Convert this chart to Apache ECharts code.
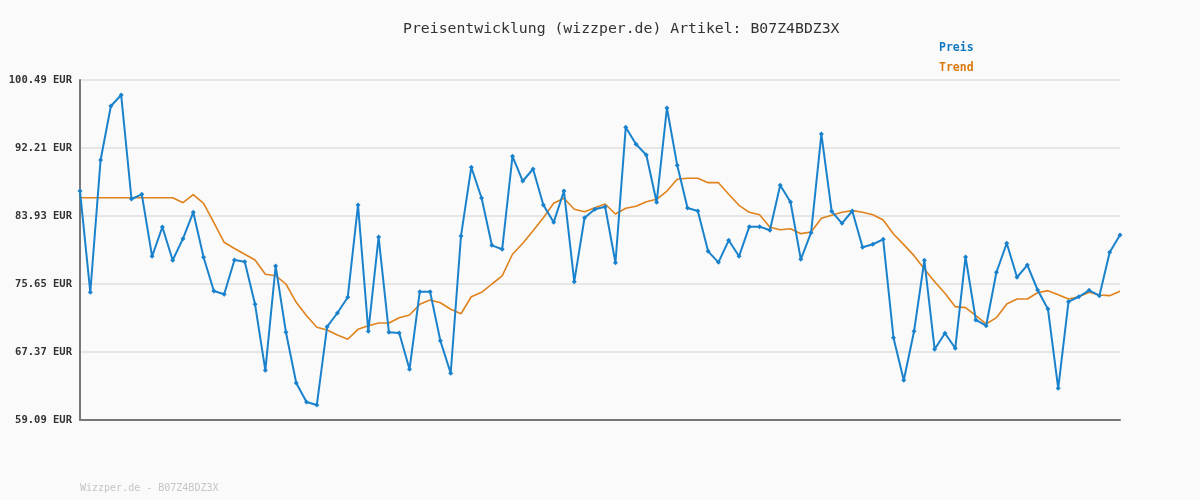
<!DOCTYPE html>
<html>
<head>
<meta charset="utf-8">
<script src="https://cdn.jsdelivr.net/npm/echarts@6/dist/echarts.min.js"></script>
<style>
html,body{margin:0;padding:0;background:#fafafa;}
#chart{width:1200px;height:500px;}
</style>
</head>
<body>
<div id="chart"></div>
<script>
// ---- data ----
const titleText = 'Preisentwicklung (wizzper.de) Artikel: B07Z4BDZ3X';
const footerText = 'Wizzper.de - B07Z4BDZ3X';
const seriesNames = ['Preis', 'Trend'];
const yTicks = [59.09, 67.37, 75.65, 83.93, 92.21, 100.49];
const categories = Array.from({length: 102}, (_, i) => String(i + 1));
const preis = [
  86.97, 74.64, 90.75, 97.32, 98.66, 86.00, 86.57, 79.02, 82.59, 78.54,
  81.17, 84.38, 78.90, 74.80, 74.40, 78.57, 78.37, 73.18, 65.14, 77.84,
  69.77, 63.60, 61.28, 60.92, 70.45, 72.12, 74.03, 85.27, 69.89, 81.37,
  69.77, 69.68, 65.26, 74.71, 74.71, 68.73, 64.78, 81.50, 89.86, 86.12,
  80.36, 79.88, 91.20, 88.19, 89.65, 85.27, 83.16, 86.97, 75.93, 83.72,
  84.75, 85.06, 78.24, 94.73, 92.66, 91.36, 85.60, 97.08, 90.10, 84.90,
  84.54, 79.63, 78.29, 80.97, 79.02, 82.63, 82.63, 82.19, 87.67, 85.64,
  78.66, 81.90, 93.91, 84.50, 83.04, 84.54, 80.12, 80.49, 81.09, 69.11,
  63.93, 69.89, 78.54, 67.70, 69.65, 67.82, 78.94, 71.27, 70.57, 77.08,
  80.61, 76.47, 77.96, 74.92, 72.61, 62.95, 73.50, 74.10, 74.88, 74.23,
  79.51, 81.62
];
const trend = [
  86.16, 86.16, 86.16, 86.16, 86.16, 86.16, 86.16, 86.16, 86.16, 86.16,
  85.55, 86.52, 85.48, 83.11, 80.73, 79.98, 79.27, 78.57, 76.83, 76.66,
  75.65, 73.42, 71.79, 70.38, 70.05, 69.44, 68.92, 70.13, 70.57, 70.90,
  70.90, 71.55, 71.88, 73.18, 73.70, 73.37, 72.57, 72.03, 74.10, 74.64,
  75.65, 76.63, 79.27, 80.61, 82.14, 83.72, 85.48, 86.09, 84.75, 84.45,
  84.94, 85.39, 84.17, 84.87, 85.11, 85.67, 85.96, 86.97, 88.40, 88.52,
  88.52, 87.99, 87.99, 86.57, 85.23, 84.38, 84.09, 82.56, 82.26, 82.38,
  81.78, 81.98, 83.65, 84.02, 84.38, 84.58, 84.38, 84.09, 83.44, 81.74,
  80.44, 79.10, 77.48, 75.93, 74.52, 72.89, 72.77, 71.79, 70.78, 71.55,
  73.22, 73.82, 73.82, 74.59, 74.84, 74.35, 73.82, 74.10, 74.64, 74.31,
  74.23, 74.76
];
// ---- chart ----
const MONO = '"DejaVu Sans Mono", "Liberation Mono", monospace';
const BLUE = '#1a82cc';
const ORANGE = '#e0821c';
const chart = echarts.init(document.getElementById('chart'), null, {renderer: 'canvas'});
chart.setOption({
  backgroundColor: '#fafafa',
  animation: false,
  title: [
    {text: titleText, left: 398, top: 17,
     textStyle: {fontFamily: MONO, fontSize: 14.8, fontWeight: 'normal', color: '#333'}},
    {text: footerText, left: 75, top: 478,
     textStyle: {fontFamily: MONO, fontSize: 10, fontWeight: 'normal', color: '#c4c4c4'}}
  ],
  legend: {
    orient: 'vertical', left: 929, top: 36, icon: 'none',
    itemWidth: 0, itemHeight: 14, itemGap: 6,
    textStyle: {fontFamily: MONO, fontSize: 11.5, fontWeight: 'bold', lineHeight: 14},
    data: [
      {name: seriesNames[0], textStyle: {color: '#1279c0'}},
      {name: seriesNames[1], textStyle: {color: '#d97a10'}}
    ],
    selectedMode: false
  },
  grid: {left: 80, right: 80, top: 80, bottom: 80, containLabel: false},
  xAxis: {
    type: 'category', data: categories, boundaryGap: false,
    axisLine: {show: true, lineStyle: {color: '#777', width: 2}},
    axisTick: {show: false}, axisLabel: {show: false}, splitLine: {show: false}
  },
  yAxis: {
    type: 'value',
    min: yTicks[0], max: yTicks[yTicks.length - 1],
    interval: +(yTicks[1] - yTicks[0]).toFixed(2),
    axisLine: {show: true, lineStyle: {color: '#777', width: 2}},
    axisTick: {show: false},
    axisLabel: {
      margin: 8, fontFamily: MONO, fontSize: 10.5, fontWeight: 'bold', color: '#333',
      formatter: v => v.toFixed(2) + ' EUR'
    },
    splitLine: {show: true, lineStyle: {color: '#e6e6e6', width: 2}}
  },
  series: [
    {name: seriesNames[0], type: 'line', data: preis, z: 3,
     symbol: 'diamond', symbolSize: 5, showSymbol: true,
     itemStyle: {color: BLUE}, lineStyle: {color: BLUE, width: 2}},
    {name: seriesNames[1], type: 'line', data: trend, z: 2,
     symbol: 'none', itemStyle: {color: ORANGE}, lineStyle: {color: ORANGE, width: 1.6}}
  ]
});
</script>
</body>
</html>
